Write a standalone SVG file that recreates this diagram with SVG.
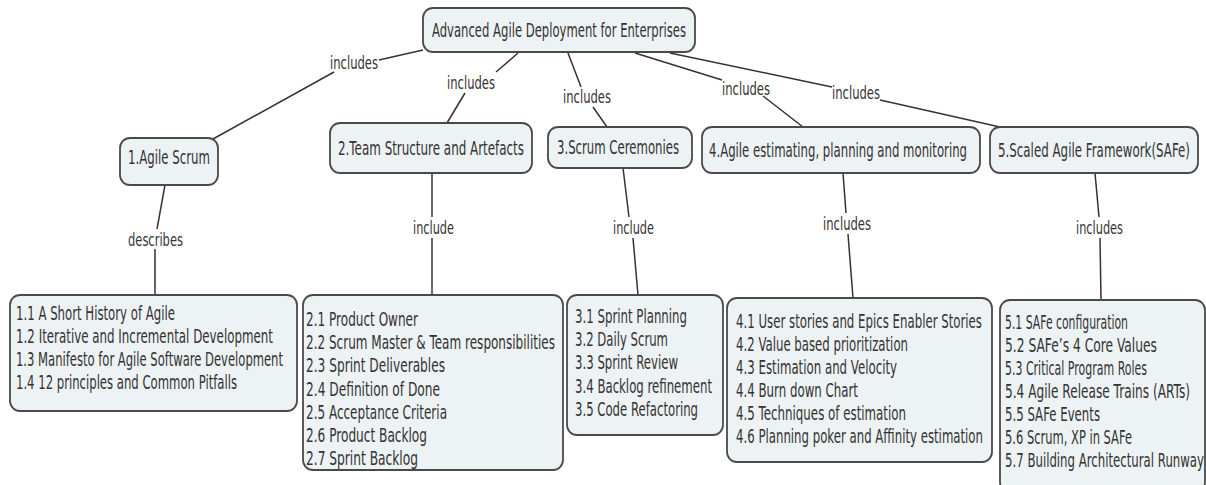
<svg xmlns="http://www.w3.org/2000/svg" width="1206" height="485" viewBox="0 0 1206 485">
<defs>
<style>
.box{fill:#edf2f4;stroke:#4a4a4a;stroke-width:1.8}
.t{font-family:"DejaVu Sans","Liberation Sans",sans-serif;font-size:20px;fill:#333}
.lbl{font-family:"DejaVu Sans","Liberation Sans",sans-serif;font-size:18px;fill:#333}
.c{fill:none;stroke:#333;stroke-width:1.5}
</style>
</defs>
<rect width="1206" height="485" fill="#ffffff"/>
<g id="connectors">
<path class="c" d="M423,50 L379,60 M334,72 L213,139"/>
<path class="c" d="M518,53 L496,72 M465,93 L447,123"/>
<path class="c" d="M568,53 L581,87 M593,107 L607,127"/>
<path class="c" d="M635,53 L722,80 M763,96 L803,127"/>
<path class="c" d="M670,53 L832,87 M880,100 L1000,127"/>
<path class="c" d="M165,185 L157,229 M155,249 L155,295"/>
<path class="c" d="M432,173 L432,217 M432,238 L432,295"/>
<path class="c" d="M623,168 L629,217 M633,238 L638,295"/>
<path class="c" d="M843,173 L846,213 M848,234 L853,298"/>
<path class="c" d="M1095,173 L1099,217 M1100,238 L1101,300"/>
<text class="lbl" x="330" y="69" textLength="48" lengthAdjust="spacingAndGlyphs">includes</text>
<text class="lbl" x="447" y="89" textLength="48" lengthAdjust="spacingAndGlyphs">includes</text>
<text class="lbl" x="563" y="103" textLength="48" lengthAdjust="spacingAndGlyphs">includes</text>
<text class="lbl" x="722" y="95" textLength="48" lengthAdjust="spacingAndGlyphs">includes</text>
<text class="lbl" x="832" y="99" textLength="48" lengthAdjust="spacingAndGlyphs">includes</text>
<text class="lbl" x="128" y="246" textLength="55" lengthAdjust="spacingAndGlyphs">describes</text>
<text class="lbl" x="413" y="234" textLength="41" lengthAdjust="spacingAndGlyphs">include</text>
<text class="lbl" x="613" y="234" textLength="41" lengthAdjust="spacingAndGlyphs">include</text>
<text class="lbl" x="823" y="230" textLength="48" lengthAdjust="spacingAndGlyphs">includes</text>
<text class="lbl" x="1076" y="234" textLength="47" lengthAdjust="spacingAndGlyphs">includes</text>
</g>
<g id="root">
<rect class="box" x="423" y="8" width="272" height="44" rx="10"/>
<text class="t" x="432" y="37" textLength="254" lengthAdjust="spacingAndGlyphs" style="font-size:19px">Advanced Agile Deployment for Enterprises</text>
</g>
<g id="n1">
<rect class="box" x="120" y="138" width="98" height="47" rx="10"/>
<text class="t" x="128" y="164" textLength="82" lengthAdjust="spacingAndGlyphs">1.Agile Scrum</text>
</g>
<g id="n2">
<rect class="box" x="330" y="123" width="202" height="50" rx="10"/>
<text class="t" x="338" y="155" textLength="186" lengthAdjust="spacingAndGlyphs">2.Team Structure and Artefacts</text>
</g>
<g id="n3">
<rect class="box" x="548" y="127" width="144" height="41" rx="10"/>
<text class="t" x="557" y="154" textLength="122" lengthAdjust="spacingAndGlyphs">3.Scrum Ceremonies</text>
</g>
<g id="n4">
<rect class="box" x="702" y="127" width="278" height="46" rx="10"/>
<text class="t" x="709" y="157" textLength="258" lengthAdjust="spacingAndGlyphs">4.Agile estimating, planning and monitoring</text>
</g>
<g id="n5">
<rect class="box" x="990" y="127" width="208" height="46" rx="10"/>
<text class="t" x="998" y="157" textLength="192" lengthAdjust="spacingAndGlyphs">5.Scaled Agile Framework(SAFe)</text>
</g>
<g id="leaf1">
<rect class="box" x="10" y="295" width="287" height="116" rx="10"/>
<text class="t" x="16" y="320" textLength="159" lengthAdjust="spacingAndGlyphs">1.1 A Short History of Agile</text>
<text class="t" x="16" y="343" textLength="257" lengthAdjust="spacingAndGlyphs">1.2 Iterative and Incremental Development</text>
<text class="t" x="16" y="366" textLength="267" lengthAdjust="spacingAndGlyphs">1.3 Manifesto for Agile Software Development</text>
<text class="t" x="16" y="389" textLength="221" lengthAdjust="spacingAndGlyphs">1.4 12 principles and Common Pitfalls</text>
</g>
<g id="leaf2">
<rect class="box" x="303" y="295" width="260" height="175" rx="10"/>
<text class="t" x="306" y="326" textLength="112" lengthAdjust="spacingAndGlyphs">2.1 Product Owner</text>
<text class="t" x="306" y="349" textLength="249" lengthAdjust="spacingAndGlyphs">2.2 Scrum Master &amp; Team responsibilities</text>
<text class="t" x="306" y="372" textLength="139" lengthAdjust="spacingAndGlyphs">2.3 Sprint Deliverables</text>
<text class="t" x="306" y="396" textLength="134" lengthAdjust="spacingAndGlyphs">2.4 Definition of Done</text>
<text class="t" x="306" y="419" textLength="141" lengthAdjust="spacingAndGlyphs">2.5 Acceptance Criteria</text>
<text class="t" x="306" y="442" textLength="121" lengthAdjust="spacingAndGlyphs">2.6 Product Backlog</text>
<text class="t" x="306" y="465" textLength="112" lengthAdjust="spacingAndGlyphs">2.7 Sprint Backlog</text>
</g>
<g id="leaf3">
<rect class="box" x="567" y="295" width="156" height="140" rx="10"/>
<text class="t" x="575" y="323" textLength="112" lengthAdjust="spacingAndGlyphs">3.1 Sprint Planning</text>
<text class="t" x="575" y="346" textLength="93" lengthAdjust="spacingAndGlyphs">3.2 Daily Scrum</text>
<text class="t" x="575" y="369" textLength="103" lengthAdjust="spacingAndGlyphs">3.3 Sprint Review</text>
<text class="t" x="575" y="393" textLength="137" lengthAdjust="spacingAndGlyphs">3.4 Backlog refinement</text>
<text class="t" x="575" y="416" textLength="123" lengthAdjust="spacingAndGlyphs">3.5 Code Refactoring</text>
</g>
<g id="leaf4">
<rect class="box" x="727" y="298" width="265" height="164" rx="10"/>
<text class="t" x="736" y="328" textLength="246" lengthAdjust="spacingAndGlyphs">4.1 User stories and Epics Enabler Stories</text>
<text class="t" x="736" y="351" textLength="172" lengthAdjust="spacingAndGlyphs">4.2 Value based prioritization</text>
<text class="t" x="736" y="374" textLength="161" lengthAdjust="spacingAndGlyphs">4.3 Estimation and Velocity</text>
<text class="t" x="736" y="397" textLength="122" lengthAdjust="spacingAndGlyphs">4.4 Burn down Chart</text>
<text class="t" x="736" y="420" textLength="170" lengthAdjust="spacingAndGlyphs">4.5 Techniques of estimation</text>
<text class="t" x="736" y="443" textLength="247" lengthAdjust="spacingAndGlyphs">4.6 Planning poker and Affinity estimation</text>
</g>
<g id="leaf5">
<rect class="box" x="1000" y="300" width="205" height="192" rx="10"/>
<text class="t" x="1005" y="329" textLength="123" lengthAdjust="spacingAndGlyphs">5.1 SAFe configuration</text>
<text class="t" x="1005" y="352" textLength="152" lengthAdjust="spacingAndGlyphs">5.2 SAFe’s 4  Core Values</text>
<text class="t" x="1005" y="375" textLength="142" lengthAdjust="spacingAndGlyphs">5.3 Critical Program Roles</text>
<text class="t" x="1005" y="398" textLength="185" lengthAdjust="spacingAndGlyphs">5.4 Agile Release Trains (ARTs)</text>
<text class="t" x="1005" y="421" textLength="95" lengthAdjust="spacingAndGlyphs">5.5 SAFe Events</text>
<text class="t" x="1005" y="444" textLength="127" lengthAdjust="spacingAndGlyphs">5.6 Scrum, XP in SAFe</text>
<text class="t" x="1005" y="467" textLength="199" lengthAdjust="spacingAndGlyphs">5.7 Building Architectural Runway</text>
</g>
</svg>
